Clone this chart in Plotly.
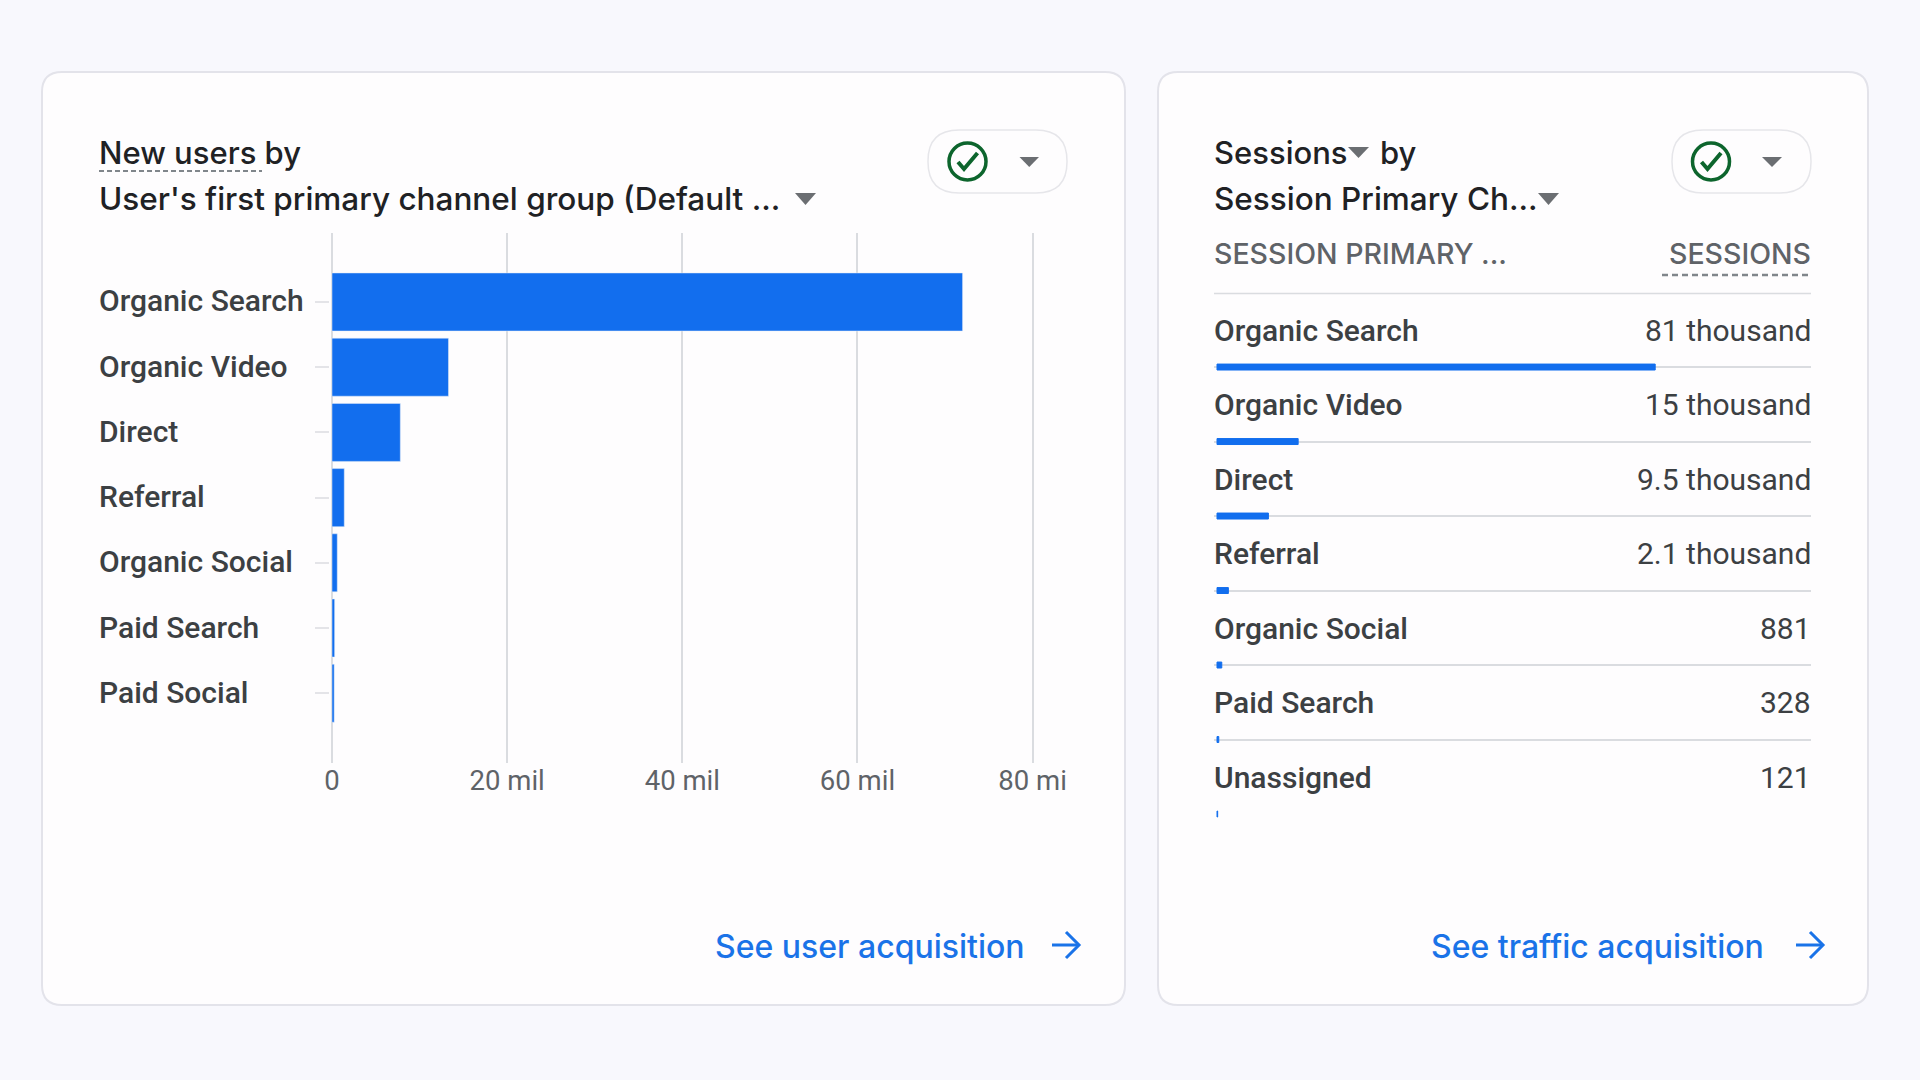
"""GA4 report cards: new users by channel + sessions by channel"""
import plotly.graph_objects as go

W, H = 1920, 1080

# left card: bar chart
channels = ['Organic Search', 'Organic Video', 'Direct', 'Referral',
            'Organic Social', 'Paid Search', 'Paid Social']
new_users = [72000000, 13300000, 7800000, 1400000, 600000, 300000, 250000]
x_ticks = [0, 20000000, 40000000, 60000000, 80000000]
x_labels = ['0', '20 mil', '40 mil', '60 mil', '80 mi']

# right card: table with small bars
session_channels = ['Organic Search', 'Organic Video', 'Direct', 'Referral',
                    'Organic Social', 'Paid Search', 'Unassigned']
sessions = [81000, 15000, 9500, 2100, 881, 328, 121]
session_labels = ['81 thousand', '15 thousand', '9.5 thousand', '2.1 thousand',
                  '881', '328', '121']

BLUE = '#126EEE'
LINK = '#1A73E8'
DARK = '#202124'
TEXT = '#3C4043'
GRAY = '#5F6368'
GRID = '#DADCE0'
BG = '#F8F8FD'
CARD = '#FEFDFE'
BORDER = '#E3E3EA'
GREEN = '#0D652D'
TRI = '#6B6E72'
FONT = 'Roboto'
HEAD = 'Inter'


def fx(x):
    return x / W


def fy(y):
    return 1 - y / H


def path(points, close=False):
    s = ''
    for i, (x, y) in enumerate(points):
        s += ('M' if i == 0 else 'L') + f'{fx(x)},{fy(y)} '
    return s + ('Z' if close else '')


def rounded(x0, y0, x1, y1, r):
    return (f'M{fx(x0 + r)},{fy(y0)} L{fx(x1 - r)},{fy(y0)} '
            f'Q{fx(x1)},{fy(y0)} {fx(x1)},{fy(y0 + r)} '
            f'L{fx(x1)},{fy(y1 - r)} Q{fx(x1)},{fy(y1)} {fx(x1 - r)},{fy(y1)} '
            f'L{fx(x0 + r)},{fy(y1)} Q{fx(x0)},{fy(y1)} {fx(x0)},{fy(y1 - r)} '
            f'L{fx(x0)},{fy(y0 + r)} Q{fx(x0)},{fy(y0)} {fx(x0 + r)},{fy(y0)} Z')


fig = go.Figure()
fig.add_bar(x=new_users, y=channels, orientation='h', marker_color=BLUE,
            xaxis='x', yaxis='y', hoverinfo='skip')
fig.add_bar(x=sessions, y=session_channels, orientation='h', marker_color=BLUE,
            marker_line=dict(color=BLUE, width=1),
            xaxis='x2', yaxis='y2', hoverinfo='skip')

shapes = []


def add_shape(d, fill='rgba(0,0,0,0)', color=None, width=0, dash=None):
    shapes.append(dict(type='path', path=d, xref='paper', yref='paper', layer='below',
                       fillcolor=fill,
                       line=dict(color=color or 'rgba(0,0,0,0)', width=width, dash=dash or 'solid')))


def triangle(x0, x1, y0, y1):
    add_shape(path([(x0, y0), (x1, y0), ((x0 + x1) / 2, y1)], close=True), fill=TRI)


def pill(x0, x1, cx, tx0, tx1):
    add_shape(rounded(x0, 130, x1, 193, 31), fill=CARD, color='#E6E6EA', width=1.5)
    shapes.append(dict(type='circle', xref='paper', yref='paper', layer='below',
                       x0=fx(cx - 18.5), x1=fx(cx + 18.5), y0=fy(143), y1=fy(180),
                       line=dict(color=GREEN, width=3.5)))
    add_shape(path([(cx - 9.5, 162), (cx - 3.5, 169), (cx + 10, 153)]), color=GREEN, width=4)
    triangle(tx0, tx1, 157, 167)


def arrow(x0, x1):
    add_shape(path([(x0, 945), (x1, 945)]), color=LINK, width=3)
    add_shape(path([(x1 - 13, 932), (x1, 945), (x1 - 13, 958)]), color=LINK, width=3)


# cards
add_shape(rounded(42, 72, 1125, 1005, 20), fill=CARD, color=BORDER, width=2)
add_shape(rounded(1158, 72, 1868, 1005, 20), fill=CARD, color=BORDER, width=2)

pill(928, 1067, 967.5, 1019.5, 1039)
pill(1672, 1811, 1711, 1762, 1782)
triangle(795, 816, 193, 205)
triangle(1348, 1369, 147, 158)
triangle(1538, 1559, 193, 205)
add_shape(path([(99, 171), (262, 171)]), color='#80868B', width=2, dash='5px,3px')
add_shape(path([(1662, 275), (1811, 275)]), color='#80868B', width=2.5, dash='6px,4px')
add_shape(path([(1214, 293.5), (1811, 293.5)]), color=GRID, width=1.5)
arrow(1052, 1079)
arrow(1796, 1823)

annotations = []


def label(text, x, y, size, color=TEXT, anchor='left', weight=400, yref='paper', yshift=0, family=FONT):
    # annotation boxes carry a little padding, so nudge towards the edge
    x = x - 2 if anchor == 'left' else x + 2
    annotations.append(dict(text=text, x=fx(x), y=fy(y) if yref == 'paper' else y,
                            xref='paper', yref=yref, yshift=yshift,
                            xanchor=anchor, yanchor='middle', showarrow=False,
                            font=dict(family=family, size=size, color=color, weight=weight)))


label('New users by', 99, 153, 31, DARK, family=HEAD, weight=500)
label("User's first primary channel group (Default ...", 99, 199, 31.5, DARK, family=HEAD, weight=500)
label('Sessions', 1214, 153, 31, DARK, family=HEAD, weight=500)
label('by', 1380, 153, 31, DARK, family=HEAD, weight=500)
label('Session Primary Ch...', 1214, 199, 31.5, DARK, family=HEAD, weight=500)
label('SESSION PRIMARY ...', 1214, 253, 28.5, GRAY, family=HEAD, weight=500)
label('SESSIONS', 1811, 253, 28.5, GRAY, anchor='right', family=HEAD, weight=500)
label('See user acquisition', 715, 946, 32, LINK, family=HEAD, weight=500)
label('See traffic acquisition', 1431, 946, 32, LINK, family=HEAD, weight=500)

for name in channels:
    label(name, 99, name, 30, TEXT, weight=500, yref='y', yshift=1)
for name, text in zip(session_channels, session_labels):
    label(name, 1214, name, 30, TEXT, weight=500, yref='y2', yshift=37)
    label(text, 1811, name, 30, TEXT, anchor='right', yref='y2', yshift=37)

fig.update_layout(
    width=W, height=H, margin=dict(l=0, r=0, t=0, b=0),
    paper_bgcolor=BG, plot_bgcolor='rgba(0,0,0,0)',
    showlegend=False, bargap=0.11,
    shapes=shapes, annotations=annotations,
    # range runs a little past 0 and 80 mil so both end gridlines get drawn
    xaxis=dict(domain=[fx(330.25), fx(1041.4)], range=[-200000, 81000000], anchor='y',
               automargin=False,
               tickmode='array', tickvals=x_ticks, ticktext=x_labels,
               tickfont=dict(family=FONT, size=27.5, color=GRAY),
               ticks='', ticklabelstandoff=-2,
               showgrid=True, gridcolor=GRID, gridwidth=2, zeroline=False, showline=False),
    # rows sit 65.2 px apart, the plot runs from y=233 to y=763
    yaxis=dict(domain=[fy(763), fy(233)], range=[7.07, -1.058], anchor='x',
               automargin=False,
               type='category', categoryorder='array', categoryarray=channels,
               showticklabels=False, ticks='outside', ticklen=14, tickcolor='#E4E4E8', tickwidth=2,
               showgrid=False, zeroline=False, showline=False),
    xaxis2=dict(domain=[fx(1214), fx(1811)], range=[-555, 109800], anchor='y2',
                automargin=False, visible=False),
    # rows sit 74.5 px apart, first bar at y=367
    yaxis2=dict(domain=[fy(850), fy(300)], range=[6.483, -0.9], anchor='x2',
                automargin=False,
                type='category', categoryorder='array', categoryarray=session_channels,
                tickmode='array', tickvals=session_channels[:-1], showticklabels=False,
                ticks='', showgrid=True, gridcolor=GRID, gridwidth=1.5,
                zeroline=False, showline=False),
)
# the second bar trace has its own thin bars
fig.data[1].width = 0.08

fig.write_html("out.html", post_script="document.body.style.margin='0';",
               config={'displayModeBar': False})
